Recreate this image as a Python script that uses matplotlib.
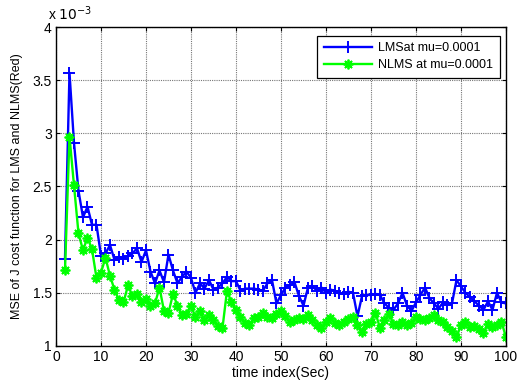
import matplotlib
matplotlib.use("Agg")
import matplotlib.pyplot as plt
import numpy as np
from matplotlib.ticker import FuncFormatter

plt.rcParams['font.family'] = ['Liberation Sans', 'DejaVu Sans']

# time index 2..100, MSE values in units of 1e-3
time_idx = np.arange(2, 101)

lms_mse = [
    1.82, 3.57, 2.91, 2.46, 2.21, 2.31, 2.14, 2.14, 1.85,
    1.87, 1.95, 1.81, 1.84, 1.82, 1.85, 1.87, 1.92, 1.79, 1.90,
    1.70, 1.59, 1.71, 1.60, 1.86, 1.71, 1.59, 1.65, 1.70, 1.64,
    1.50, 1.59, 1.54, 1.62, 1.53, 1.55, 1.59, 1.65,
    1.61, 1.61,
    1.52, 1.54, 1.54, 1.54, 1.53, 1.52, 1.59, 1.62, 1.40, 1.48,
    1.55, 1.57, 1.60, 1.47, 1.38, 1.55, 1.56, 1.52, 1.55, 1.50,
    1.53, 1.52, 1.50, 1.49, 1.51, 1.50, 1.28, 1.47, 1.48, 1.48,
    1.49, 1.48, 1.40, 1.36, 1.34, 1.40, 1.50, 1.38, 1.33, 1.41,
    1.48, 1.55, 1.45, 1.40, 1.35, 1.41, 1.39, 1.40, 1.62, 1.56,
    1.50, 1.46, 1.42, 1.38, 1.34, 1.42, 1.34, 1.50, 1.41, 1.40,
]

nlms_mse = [
    1.71, 2.97, 2.51, 2.06, 1.90, 2.02, 1.91, 1.64, 1.69,
    1.83, 1.66, 1.53, 1.43, 1.41, 1.57, 1.47, 1.49, 1.41, 1.44,
    1.38, 1.40, 1.55, 1.33, 1.31, 1.49, 1.38, 1.29, 1.30, 1.38,
    1.27, 1.33, 1.24, 1.29, 1.24, 1.19, 1.17, 1.52,
    1.41, 1.34,
    1.27, 1.22, 1.20, 1.26, 1.27, 1.31, 1.27, 1.26, 1.30, 1.33,
    1.28, 1.23, 1.24, 1.26, 1.25, 1.29, 1.24, 1.20, 1.17, 1.23,
    1.26, 1.22, 1.20, 1.23, 1.25, 1.27, 1.20, 1.13, 1.21, 1.23,
    1.31, 1.17, 1.24, 1.30, 1.21, 1.20, 1.23, 1.20, 1.22, 1.27,
    1.25, 1.24, 1.26, 1.29, 1.24, 1.23, 1.18, 1.14, 1.08, 1.20,
    1.23, 1.18, 1.19, 1.16, 1.12, 1.21, 1.18, 1.20, 1.23, 1.08,
]

x_ticks = list(range(0, 101, 10))
y_ticks = [1.0, 1.5, 2.0, 2.5, 3.0, 3.5, 4.0]
scale = 1e-3

fig = plt.figure(figsize=(5.17, 3.81), dpi=100)
ax = fig.add_axes([0.1083, 0.0919, 0.8704, 0.8372])

ax.plot(time_idx, np.array(lms_mse) * scale, color='#0000ff', lw=1.7,
        marker='+', ms=8, mew=1.4, label='LMSat mu=0.0001')
ax.plot(time_idx, np.array(nlms_mse) * scale, color='#00ff00', lw=1.7,
        marker=(8, 2, 0), ms=7, mew=1.3, label='NLMS at mu=0.0001')

ax.set_xlim(0, 100)
ax.set_ylim(1e-3, 4e-3)
ax.set_xticks(x_ticks)
ax.set_yticks([v * scale for v in y_ticks])
ax.yaxis.set_major_formatter(FuncFormatter(lambda v, p: '%g' % round(v / scale, 3)))

ax.grid(True, color='#777777', linestyle=(0, (1, 1)), linewidth=0.8)
ax.tick_params(direction='in', top=True, right=True, labelsize=10, length=3,
               pad=3)
for s in ax.spines.values():
    s.set_linewidth(1.0)

ax.set_xlabel('time index(Sec)', fontsize=10, labelpad=1)
ax.set_ylabel('MSE of J cost function for LMS and NLMS(Red)', fontsize=9,
              labelpad=7)
ax.text(-0.018, 1.012, r'x $10^{-3}$', transform=ax.transAxes, fontsize=10,
        ha='left', va='bottom')

leg = ax.legend(loc='upper right', bbox_to_anchor=(0.995, 0.985), fontsize=9,
                fancybox=False, framealpha=1, edgecolor='black',
                handlelength=3.8, handletextpad=0.5, borderpad=0.55,
                borderaxespad=0.3, labelspacing=0.4)
leg.get_frame().set_linewidth(0.9)

fig.savefig('out.png', dpi=100)
